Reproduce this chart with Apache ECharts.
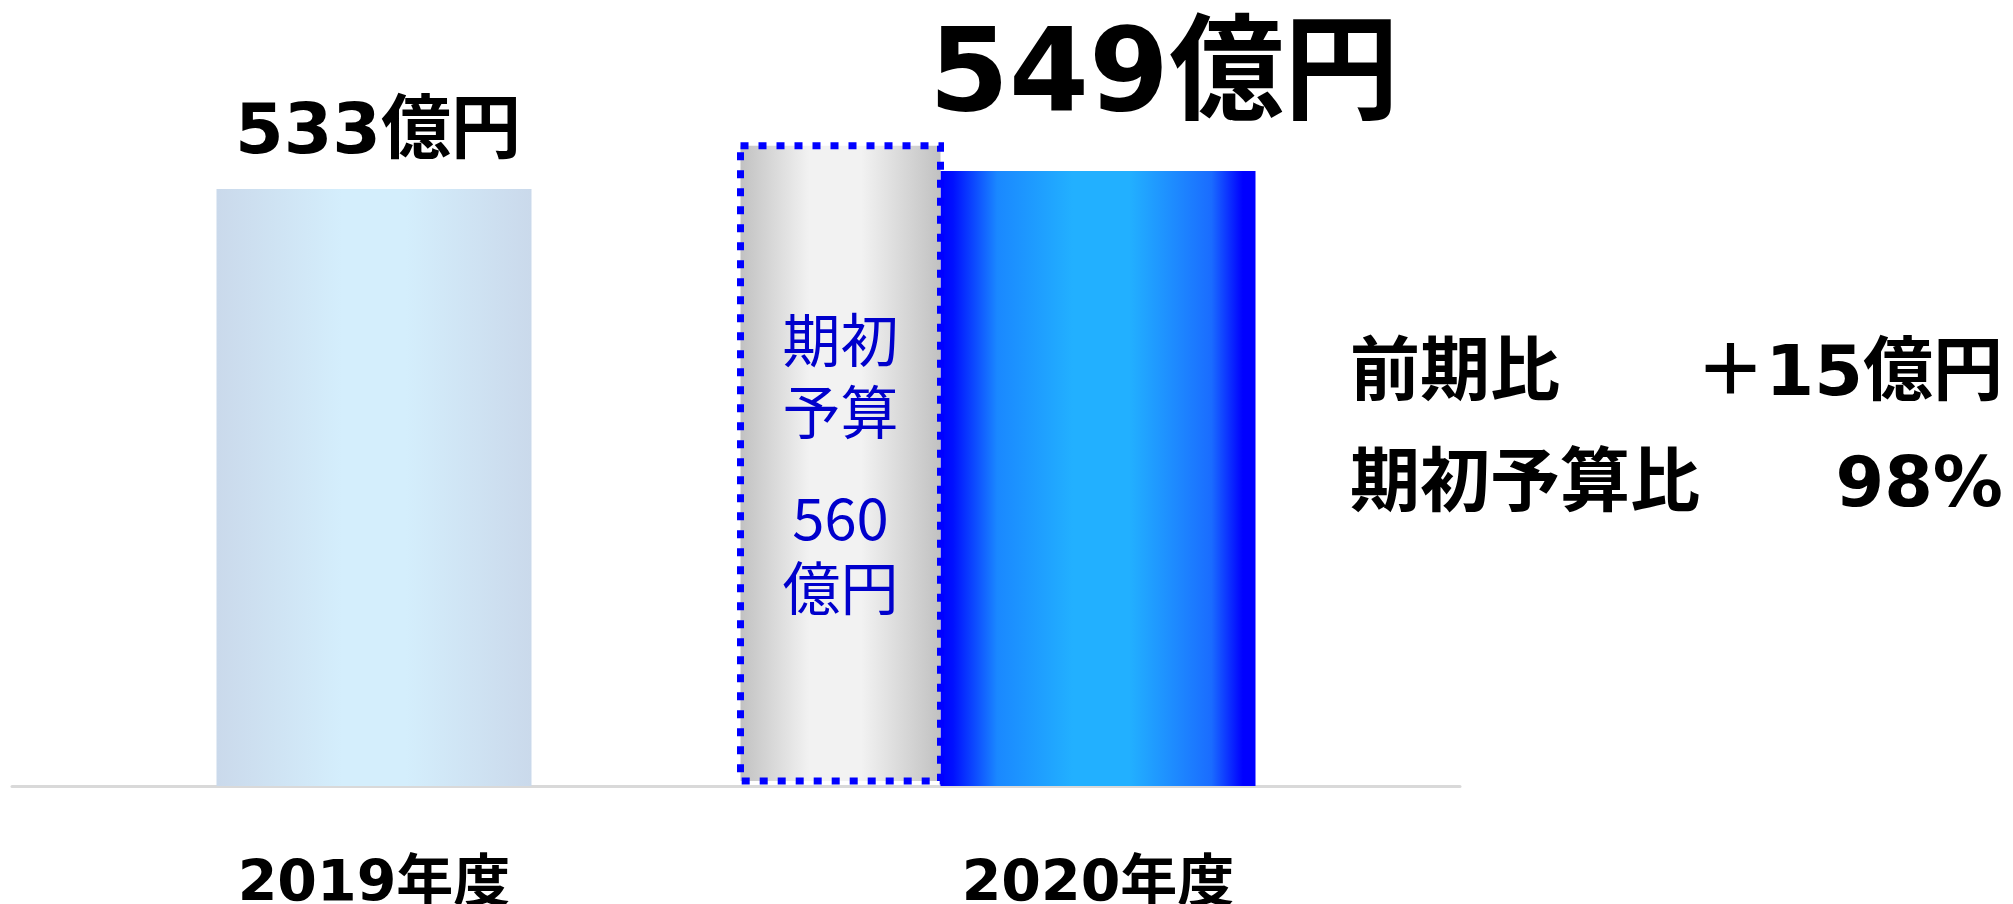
<!DOCTYPE html>
<html>
<head>
<meta charset="utf-8">
<script src="https://cdn.jsdelivr.net/npm/echarts@6/dist/echarts.min.js"></script>
<style>
  html, body { margin: 0; padding: 0; background: #fff; }
  #chart { width: 2013px; height: 904px; }
</style>
</head>
<body>
<div id="chart"></div>
<script>
// datos del gráfico
const anios = ['2019年度', '2020年度'];
const resultados = [533, 549];
const etiquetasResultado = ['533億円', '549億円'];
const presupuesto = [[1, 560]];
const textoPresupuesto = ['期初\n予算', '560\n億円'];
const comparacionNombres = ['前期比', '期初予算比'];
const comparacionValores = ['＋15億円', '98%'];

const fuenteNegrita = "'DejaVu Sans', 'Noto Sans CJK JP', sans-serif";
const fuenteCaja = "'Noto Sans CJK JP', sans-serif";
const anchoBarra = 315;

const chart = echarts.init(document.getElementById('chart'));

const grad = (stops) => new echarts.graphic.LinearGradient(0, 0, 1, 0,
    stops.map(s => ({ offset: s[0], color: s[1] })));

const colorClaro = grad([[0, '#cad9eb'], [0.4, '#d4eefc'], [0.6, '#d4eefc'], [1, '#cad9eb']]);
const colorAzul = grad([[0, '#0000ff'], [0.04, '#0010ff'], [0.18, '#1a88ff'], [0.42, '#22b0ff'],
    [0.6, '#22b0ff'], [0.86, '#1a6cff'], [0.96, '#0000ff'], [1, '#0000ff']]);
const colorGris = grad([[0, '#bfbfbf'], [0.35, '#f2f2f2'], [0.6, '#f2f2f2'], [1, '#bfbfbf']]);

// etiquetas encima de cada barra
const estiloEtiquetas = [
    { fontSize: 70, distance: 19, offset: [4, 0] },
    { fontSize: 115, distance: 33, offset: [66, 0] }
];

const datosBarras = resultados.map((v, i) => ({
    value: v,
    itemStyle: { color: i === 0 ? colorClaro : colorAzul },
    label: {
        show: true,
        position: 'top',
        formatter: etiquetasResultado[i],
        fontSize: estiloEtiquetas[i].fontSize,
        fontWeight: 'bold',
        fontFamily: fuenteNegrita,
        color: '#000',
        distance: estiloEtiquetas[i].distance,
        offset: estiloEtiquetas[i].offset
    }
}));

function dibujarPresupuesto(params, api) {
    const cima = api.coord([api.value(0), api.value(1)]);
    const base = api.coord([api.value(0), 0]);
    const derecha = cima[0] - anchoBarra / 2;
    const ancho = 200;
    const y0 = cima[1] - 13;
    const y1 = base[1] - 5;
    const cx = derecha - ancho / 2;
    return {
        type: 'group',
        children: [
            {
                type: 'rect',
                shape: { x: derecha - ancho, y: y0, width: ancho, height: y1 - y0 },
                style: {
                    fill: colorGris,
                    stroke: '#0000ff',
                    lineWidth: 7,
                    lineDash: [8, 10]
                }
            },
            {
                type: 'text',
                x: cx, y: y0 + 230,
                style: {
                    text: textoPresupuesto[0],
                    fontSize: 58, fontFamily: fuenteCaja, lineHeight: 72,
                    fill: '#0000cc', align: 'center', verticalAlign: 'middle'
                }
            },
            {
                type: 'text',
                x: cx, y: y0 + 407,
                style: {
                    text: textoPresupuesto[1],
                    fontSize: 58, fontFamily: fuenteCaja, lineHeight: 70,
                    fill: '#0000cc', align: 'center', verticalAlign: 'middle'
                }
            }
        ]
    };
}

// textos de comparación a la derecha
const textosDerecha = [];
comparacionNombres.forEach((t, i) => {
    const y = 384 + i * 111;
    textosDerecha.push({
        type: 'text', left: 1350, top: y - 42,
        style: { text: t, fontSize: 70, fontWeight: 'bold', fontFamily: fuenteNegrita, fill: '#000' }
    });
    textosDerecha.push({
        type: 'text', right: 10, top: y - 42,
        style: { text: comparacionValores[i], fontSize: 70, fontWeight: 'bold', fontFamily: fuenteNegrita, fill: '#000' }
    });
});

chart.setOption({
    animation: false,
    grid: { left: 12, right: 553, top: 114, bottom: 118, outerBoundsMode: 'none', containLabel: false },
    xAxis: {
        type: 'category',
        data: anios,
        axisLine: { lineStyle: { color: '#d9d9d9', width: 3 } },
        axisTick: { show: false },
        axisLabel: {
            margin: 72,
            fontSize: 57,
            fontWeight: 'bold',
            fontFamily: fuenteNegrita,
            color: '#000'
        }
    },
    yAxis: { type: 'value', min: 0, max: 600, show: false, splitLine: { show: false } },
    graphic: textosDerecha,
    series: [
        {
            type: 'bar',
            data: datosBarras,
            barWidth: anchoBarra,
            z: 2
        },
        {
            type: 'custom',
            data: presupuesto,
            renderItem: dibujarPresupuesto,
            z: 3
        }
    ]
});

window.addEventListener('resize', () => chart.resize());
</script>
</body>
</html>
